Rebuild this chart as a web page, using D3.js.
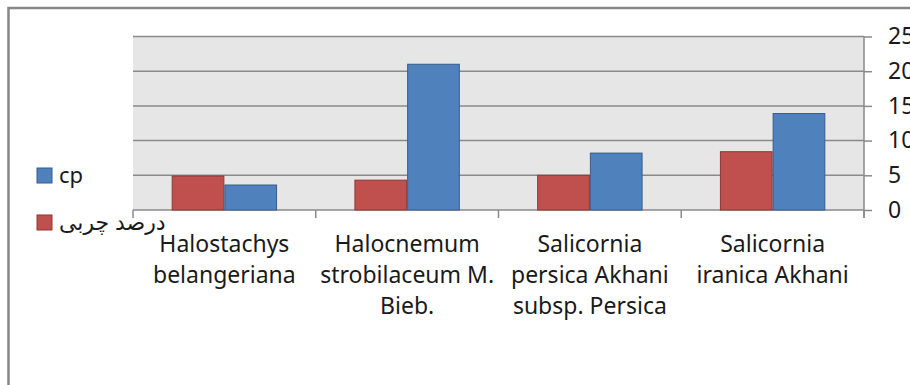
<!DOCTYPE html>
<html>
<head>
<meta charset="utf-8">
<script src="https://cdn.jsdelivr.net/npm/d3@7"></script>
<style>
  body { margin: 0; background: #fff; }
  svg { display: block; }
  text { font-family: "Noto Sans", "DejaVu Sans", sans-serif; fill: #1a1a1a; }
</style>
</head>
<body>
<div id="chart"></div>
<script>
// categories (label lines as drawn)
var categories = [
  ["Halostachys", "belangeriana"],
  ["Halocnemum", "strobilaceum M.", "Bieb."],
  ["Salicornia", "persica Akhani", "subsp. Persica"],
  ["Salicornia", "iranica Akhani"]
];
var seriesNames = ["درصد چربی", "cp"];
var fatValues = [4.9, 4.3, 5.0, 8.4];
var cpValues = [3.6, 21.0, 8.2, 13.9];
var yTicks = [0, 5, 10, 15, 20, 25];

(function() {
  var colors = { "درصد چربی": "#c0504d", "cp": "#4f81bd" };
  var strokes = { "درصد چربی": "#8c3836", "cp": "#385d8a" };

  var W = 910, H = 385;
  var pLeft = 133, pRight = 864, pTop = 36.5, pBottom = 210;

  var svg = d3.select("#chart").append("svg")
    .attr("width", W)
    .attr("height", H);

  // outer chart border (only top & left visible)
  svg.append("rect")
    .attr("x", 8.5).attr("y", 8)
    .attr("width", 1000).attr("height", 500)
    .attr("fill", "none")
    .attr("stroke", "#878787")
    .attr("stroke-width", 2.5);

  var x = d3.scaleBand()
    .domain(d3.range(categories.length))
    .range([pLeft, pRight]);

  var xInner = d3.scaleBand()
    .domain(seriesNames)
    .range([0, x.bandwidth()])
    .paddingOuter(0.734);

  var y = d3.scaleLinear()
    .domain([0, 25])
    .range([pBottom, pTop]);

  // plot area
  svg.append("rect")
    .attr("x", pLeft).attr("y", pTop)
    .attr("width", pRight - pLeft).attr("height", pBottom - pTop)
    .attr("fill", "#e6e6e6");

  // gridlines
  svg.append("g")
    .selectAll("line")
    .data(yTicks)
    .enter()
    .append("line")
    .attr("x1", pLeft).attr("x2", pRight)
    .attr("y1", function(d) { return y(d); })
    .attr("y2", function(d) { return y(d); })
    .attr("stroke", "#8a8a8a")
    .attr("stroke-width", 1.5);

  // bars
  var groups = svg.append("g")
    .selectAll("g")
    .data(categories.map(function(c, i) {
      return [
        { s: seriesNames[0], v: fatValues[i] },
        { s: seriesNames[1], v: cpValues[i] }
      ];
    }))
    .enter()
    .append("g")
    .attr("transform", function(d, i) { return "translate(" + x(i) + ",0)"; });

  groups.selectAll("rect")
    .data(function(d) { return d; })
    .enter()
    .append("rect")
    .attr("x", function(d) { return xInner(d.s) + 0.5; })
    .attr("y", function(d) { return y(d.v); })
    .attr("width", xInner.bandwidth() - 1)
    .attr("height", function(d) { return y(0) - y(d.v); })
    .attr("fill", function(d) { return colors[d.s]; })
    .attr("stroke", function(d) { return strokes[d.s]; })
    .attr("stroke-width", 1);

  // category tick marks below axis
  svg.append("g")
    .selectAll("line")
    .data(d3.range(categories.length + 1))
    .enter()
    .append("line")
    .attr("x1", function(d) { return pLeft + d * x.step(); })
    .attr("x2", function(d) { return pLeft + d * x.step(); })
    .attr("y1", pBottom).attr("y2", pBottom + 8)
    .attr("stroke", "#8a8a8a")
    .attr("stroke-width", 1.5);

  // category labels
  var labels = svg.append("g")
    .selectAll("text")
    .data(categories)
    .enter()
    .append("text")
    .attr("text-anchor", "middle")
    .style("font-size", "23px");

  labels.selectAll("tspan")
    .data(function(d, i) { return d.map(function(t) { return { t: t, i: i }; }); })
    .enter()
    .append("tspan")
    .attr("x", function(d) { return x(d.i) + x.bandwidth() / 2; })
    .attr("y", function(d, j) { return 252 + j * 31; })
    .text(function(d) { return d.t; });

  // right value axis
  var yAxis = d3.axisRight(y)
    .tickValues(yTicks)
    .tickSize(8)
    .tickPadding(16);

  var ax = svg.append("g")
    .attr("transform", "translate(" + pRight + ",0)")
    .call(yAxis);
  ax.select(".domain").remove();
  ax.selectAll(".tick line")
    .attr("stroke", "#8a8a8a")
    .attr("stroke-width", 1.5);
  ax.selectAll(".tick text")
    .attr("fill", "#1a1a1a")
    .style("font-size", "23px")
    .style("font-family", "'Noto Sans', sans-serif");
  ax.append("line")
    .attr("x1", 0).attr("x2", 0)
    .attr("y1", pTop).attr("y2", pBottom + 8)
    .attr("stroke", "#8a8a8a")
    .attr("stroke-width", 1.5);

  // legend (cp on top)
  var legendItems = [seriesNames[1], seriesNames[0]];
  var legend = svg.append("g")
    .selectAll("g")
    .data(legendItems)
    .enter()
    .append("g")
    .attr("transform", function(d, i) { return "translate(37," + (168 + i * 47) + ")"; });

  legend.append("rect")
    .attr("width", 15).attr("height", 15)
    .attr("fill", function(d) { return colors[d]; })
    .attr("stroke", function(d) { return strokes[d]; })
    .attr("stroke-width", 1);

  legend.append("text")
    .attr("x", 22)
    .attr("y", 15)
    .style("font-size", "22px")
    .text(function(d) { return d; });
})();
</script>
</body>
</html>
